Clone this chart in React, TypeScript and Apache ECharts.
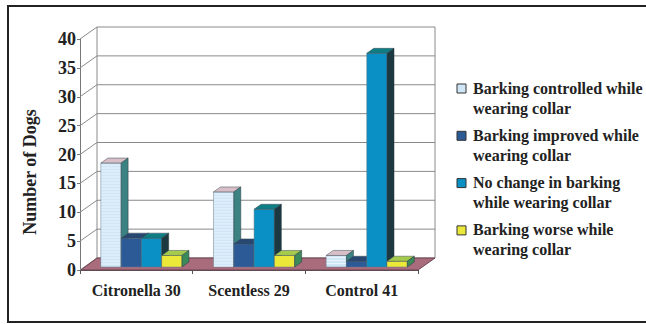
import React, { useEffect, useRef } from "react";
import * as echarts from "echarts";

// Dogs per outcome, by collar type
const categories = ["Citronella 30", "Scentless 29", "Control 41"];
const seriesNames = [
  "Barking controlled while\nwearing collar",
  "Barking improved while\nwearing collar",
  "No change in barking\nwhile wearing collar",
  "Barking worse while\nwearing collar",
];
const controlled = [18, 13, 2];
const improved = [5, 4, 1];
const noChange = [5, 10, 37];
const worse = [2, 2, 1];
const yTicks = [0, 5, 10, 15, 20, 25, 30, 35, 40];

const FONT = "Liberation Serif";

// Face colours for each bar series: front, top, side
const faces = [
  { front: "#cfe6f6", top: "#d8bec6", side: "#3d8282", stripe: "#eaf5fc" },
  { front: "#2c5a96", top: "#284872", side: "#1d3658", stripe: "" },
  { front: "#0a90c4", top: "#0f7d84", side: "#1c3840", stripe: "" },
  { front: "#ece83a", top: "#a6ca4c", side: "#3c895a", stripe: "" },
];

// Wall depth (back wall offset) and bar depth, in pixels
const WALL_DX = 17;
const WALL_DY = -12;
const BAR_LIFT = 3;
const BAR_DX = 7;
const BAR_DY = -5;

function barRenderer(k: number) {
  return (params: any, api: any) => {
    const ci = api.value(0);
    const v = api.value(1);
    const [cx, yTop] = api.coord([ci, v]);
    const [, y0] = api.coord([ci, 0]);
    const band = api.size([1, 0])[0];
    const bw = band * 0.18;
    const x0 = cx + band * 0.045 + (k - 2) * bw;
    const x1 = x0 + bw;
    const yb = y0 - BAR_LIFT;
    const yt = yTop - BAR_LIFT;
    const f = faces[k];
    const children: any[] = [
      {
        type: "rect",
        shape: { x: x0, y: yt, width: bw, height: yb - yt },
        style: { fill: f.front, stroke: "#6a7a88", lineWidth: 0.5 },
      },
    ];
    if (f.stripe) {
      for (let y = yt + 2; y < yb - 1; y += 3) {
        children.push({
          type: "line",
          shape: { x1: x0 + 0.5, y1: y, x2: x1 - 0.5, y2: y },
          style: { stroke: f.stripe, lineWidth: 1 },
        });
      }
    }
    children.push(
      {
        type: "polygon",
        shape: {
          points: [
            [x0, yt],
            [x0 + BAR_DX, yt + BAR_DY],
            [x1 + BAR_DX, yt + BAR_DY],
            [x1, yt],
          ],
        },
        style: { fill: f.top, stroke: "#3a4a55", lineWidth: 0.5 },
      },
      {
        type: "polygon",
        shape: {
          points: [
            [x1, yt],
            [x1 + BAR_DX, yt + BAR_DY],
            [x1 + BAR_DX, yb + BAR_DY],
            [x1, yb],
          ],
        },
        style: { fill: f.side, stroke: "#2a3a40", lineWidth: 0.5 },
      }
    );
    return { type: "group", children };
  };
}

function wallRenderer(params: any, api: any) {
  const cs = params.coordSys;
  const v = api.value(1);
  const y = api.coord([0, v])[1];
  const left = cs.x;
  const right = cs.x + cs.width;
  const grid = { stroke: "#8a8a8a", lineWidth: 1 };
  const children: any[] = [
    {
      type: "line",
      shape: { x1: left, y1: y, x2: left + WALL_DX, y2: y + WALL_DY },
      style: grid,
    },
    {
      type: "line",
      shape: { x1: left + WALL_DX, y1: y + WALL_DY, x2: right + WALL_DX, y2: y + WALL_DY },
      style: grid,
    },
  ];
  if (params.dataIndex === 0) {
    const yTopFront = cs.y;
    const yBotFront = cs.y + cs.height;
    children.push(
      {
        type: "line",
        shape: { x1: left + WALL_DX, y1: yTopFront + WALL_DY, x2: left + WALL_DX, y2: yBotFront + WALL_DY },
        style: grid,
      },
      {
        type: "line",
        shape: { x1: right + WALL_DX, y1: yTopFront + WALL_DY, x2: right + WALL_DX, y2: yBotFront + WALL_DY },
        style: grid,
      }
    );
  }
  return { type: "group", children };
}

function floorRenderer(params: any, api: any) {
  const cs = params.coordSys;
  const y0 = api.coord([0, 0])[1];
  const left = cs.x;
  const right = cs.x + cs.width;
  return {
    type: "polygon",
    shape: {
      points: [
        [left + 1, y0],
        [left + WALL_DX, y0 + WALL_DY],
        [right + WALL_DX, y0 + WALL_DY],
        [right, y0],
      ],
    },
    style: { fill: "#a86c7c", stroke: "#6e4252", lineWidth: 1 },
  };
}

export default function App() {
  const ref = useRef<HTMLDivElement>(null);

  useEffect(() => {
    if (!ref.current) return;
    const chart = echarts.init(ref.current, undefined, { renderer: "svg" });
    const values = [controlled, improved, noChange, worse];

    const legendGraphics: any[] = [];
    seriesNames.forEach((name, i) => {
      legendGraphics.push(
        {
          type: "rect",
          shape: { x: 457, y: 84 + i * 47.3, width: 9, height: 9 },
          style: { fill: faces[i].front, stroke: "#333", lineWidth: 1 },
        },
        {
          type: "text",
          x: 473,
          y: 78 + i * 47.3,
          style: {
            text: name,
            fontFamily: FONT,
            fontWeight: "bold",
            fontSize: 16,
            fill: "#222",
            lineHeight: 20,
            verticalAlign: "top",
          },
        }
      );
    });

    chart.setOption({
      animation: false,
      backgroundColor: "#ffffff",
      grid: { left: 80, top: 39, right: 228, bottom: 54 },
      xAxis: {
        type: "category",
        data: categories,
        axisLine: { show: true, lineStyle: { color: "#555", width: 1 } },
        axisTick: { show: true, length: 4, lineStyle: { color: "#555" } },
        axisLabel: {
          interval: 0,
          margin: 12,
          fontFamily: FONT,
          fontWeight: "bold",
          fontSize: 16,
          color: "#222",
        },
        splitLine: { show: false },
      },
      yAxis: {
        type: "value",
        min: 0,
        max: 40,
        interval: 5,
        axisLine: { show: true, lineStyle: { color: "#777", width: 1 } },
        axisTick: { show: true, length: 3, lineStyle: { color: "#777" } },
        axisLabel: {
          margin: 4,
          fontFamily: FONT,
          fontWeight: "bold",
          fontSize: 18,
          color: "#222",
        },
        splitLine: { show: false },
      },
      series: [
        {
          type: "custom",
          name: "walls",
          z: 1,
          renderItem: wallRenderer,
          data: yTicks.map((v) => [0, v]),
          silent: true,
        },
        {
          type: "custom",
          name: "floor",
          z: 2,
          renderItem: floorRenderer,
          data: [[0, 0]],
          silent: true,
        },
        ...values.map((arr, k) => ({
          type: "custom",
          name: seriesNames[k],
          z: 3,
          renderItem: barRenderer(k),
          itemStyle: { color: faces[k].front },
          data: arr.map((v, ci) => [ci, v]),
        })),
      ],
      graphic: [
        {
          type: "rect",
          shape: { x: 8, y: 6, width: 660, height: 316 },
          style: { fill: "none", stroke: "#222", lineWidth: 2 },
          z: 10,
        },
        {
          type: "text",
          x: 30,
          y: 172,
          rotation: Math.PI / 2,
          style: {
            text: "Number of Dogs",
            fontFamily: FONT,
            fontWeight: "bold",
            fontSize: 18,
            fill: "#222",
            align: "center",
            verticalAlign: "middle",
          },
        },
        ...legendGraphics,
      ],
    });

    return () => chart.dispose();
  }, []);

  return (
    <div style={{ position: "absolute", left: 0, top: 0 }}>
      <div ref={ref} style={{ width: 646, height: 324 }} />
    </div>
  );
}
